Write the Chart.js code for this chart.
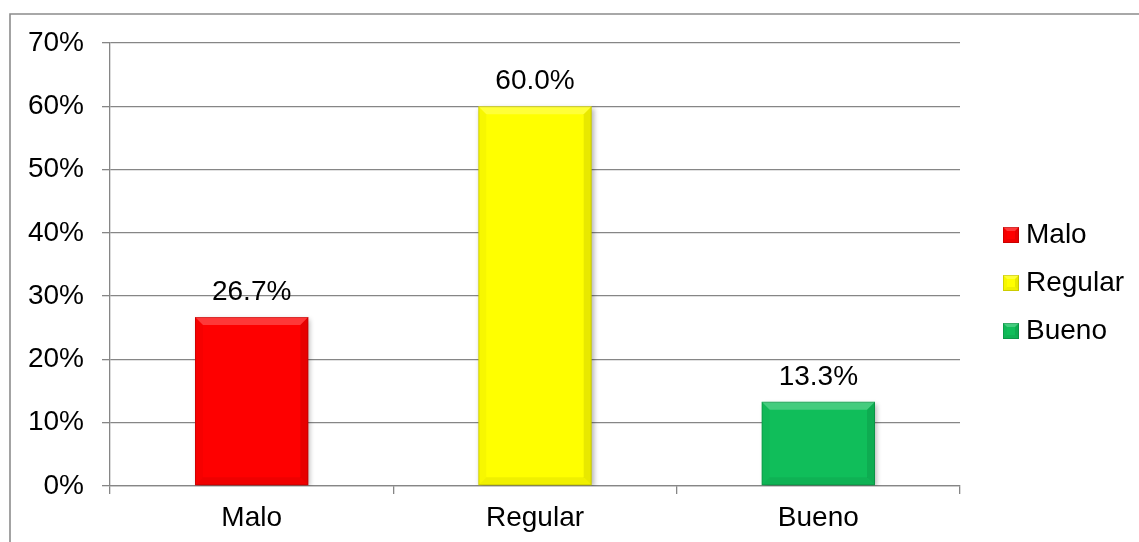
<!DOCTYPE html>
<html>
<head>
<meta charset="utf-8">
<script src="https://cdn.jsdelivr.net/npm/chart.js@4"></script>
<style>
  html, body { margin: 0; padding: 0; background: #fff; }
  #wrap { position: relative; width: 1139px; height: 542px; }
</style>
</head>
<body>
<div id="wrap"><canvas id="dataChart" width="1139" height="542"></canvas></div>
<script>
// chart data
const categories = ['Malo', 'Regular', 'Bueno'];
const percentValues = [26.7, 60.0, 13.3];
const barColors = ['#FE0000', '#FFFF00', '#10BE5A'];
const yTickMax = 70;
const yTickStep = 10;

const FONT = "'Liberation Sans', Arial, sans-serif";

// draws the outer frame of the picture
const framePlugin = {
    id: 'frame',
    beforeDraw(chart) {
        const ctx = chart.ctx;
        ctx.save();
        ctx.strokeStyle = '#8c8c8c';
        ctx.lineWidth = 1.6;
        ctx.beginPath();
        ctx.moveTo(10, 542);
        ctx.lineTo(10, 14);
        ctx.lineTo(1139, 14);
        ctx.stroke();
        ctx.restore();
    }
};

// soft shadow + bevel on every bar
const bevelPlugin = {
    id: 'bevel',
    beforeDatasetsDraw(chart) {
        const ctx = chart.ctx;
        ctx.save();
        ctx.shadowColor = 'rgba(0,0,0,0.3)';
        ctx.shadowBlur = 5;
        ctx.shadowOffsetX = 2;
        ctx.shadowOffsetY = 2;
    },
    afterDatasetsDraw(chart) {
        const ctx = chart.ctx;
        ctx.restore();
        const meta = chart.getDatasetMeta(0);
        meta.data.forEach(bar => {
            const p = bar.getProps(['x', 'y', 'base', 'width'], true);
            drawBevel(ctx, p.x - p.width / 2, p.y, p.x + p.width / 2, p.base, 8);
        });
        // data labels above the bars
        ctx.save();
        ctx.font = '28px ' + FONT;
        ctx.fillStyle = '#000';
        ctx.textAlign = 'center';
        ctx.textBaseline = 'alphabetic';
        meta.data.forEach((bar, i) => {
            ctx.fillText(percentValues[i].toFixed(1) + '%', bar.x, bar.y - 17);
        });
        ctx.restore();
    }
};

function drawBevel(ctx, l, t, r, b, d) {
    const poly = (pts, col) => {
        ctx.fillStyle = col;
        ctx.beginPath();
        ctx.moveTo(pts[0][0], pts[0][1]);
        for (let k = 1; k < pts.length; k++) ctx.lineTo(pts[k][0], pts[k][1]);
        ctx.closePath();
        ctx.fill();
    };
    ctx.save();
    poly([[l, t], [r, t], [r - d, t + d], [l + d, t + d]], 'rgba(255,255,255,0.22)');
    poly([[l, t], [l + d, t + d], [l + d, b - d], [l, b]], 'rgba(0,0,0,0.03)');
    poly([[r, t], [r, b], [r - d, b - d], [r - d, t + d]], 'rgba(0,0,0,0.09)');
    poly([[l, b], [l + d, b - d], [r - d, b - d], [r, b]], 'rgba(0,0,0,0.06)');
    ctx.strokeStyle = 'rgba(0,0,0,0.15)';
    ctx.lineWidth = 1;
    ctx.strokeRect(l + 0.5, t + 0.5, r - l - 1, b - t - 1);
    ctx.restore();
}

// legend on the right side
const legendPlugin = {
    id: 'sideLegend',
    afterDraw(chart) {
        const ctx = chart.ctx;
        ctx.save();
        ctx.font = '28px ' + FONT;
        ctx.textBaseline = 'middle';
        ctx.textAlign = 'left';
        categories.forEach((name, i) => {
            const cy = 235 + i * 48;
            ctx.fillStyle = barColors[i];
            ctx.fillRect(1003, cy - 8, 16, 16);
            drawBevel(ctx, 1003, cy - 8, 1019, cy + 8, 4);
            ctx.fillStyle = '#000';
            ctx.fillText(name, 1026, cy);
        });
        ctx.restore();
    }
};

const ctx = document.getElementById('dataChart').getContext('2d');
const chart = new Chart(ctx, {
    type: 'bar',
    data: {
        labels: categories,
        datasets: [{
            data: percentValues,
            backgroundColor: barColors,
            borderWidth: 0,
            categoryPercentage: 1,
            barPercentage: 0.4
        }]
    },
    options: {
        responsive: false,
        animation: false,
        layout: {
            padding: { left: 0, right: 179, top: 43, bottom: 0 }
        },
        scales: {
            x: {
                grid: {
                    offset: true,
                    drawOnChartArea: false,
                    drawTicks: true,
                    tickLength: 8,
                    color: '#868686',
                    lineWidth: 1.3
                },
                border: { color: '#868686', width: 1.3 },
                ticks: {
                    color: '#000',
                    font: { family: FONT, size: 28 },
                    padding: 7
                },
                afterFit(scale) { scale.height = 56; }
            },
            y: {
                min: 0,
                max: yTickMax,
                grid: {
                    color: '#868686',
                    lineWidth: 1.3,
                    drawTicks: true,
                    tickLength: 8
                },
                border: { color: '#868686', width: 1.3 },
                ticks: {
                    stepSize: yTickStep,
                    color: '#000',
                    padding: 18,
                    font: { family: FONT, size: 28 },
                    callback: function(value) {
                        return value + '%';
                    }
                },
                afterFit(scale) { scale.width = 110; }
            }
        },
        plugins: {
            legend: { display: false },
            tooltip: { enabled: false }
        }
    },
    plugins: [framePlugin, bevelPlugin, legendPlugin]
});
</script>
</body>
</html>
